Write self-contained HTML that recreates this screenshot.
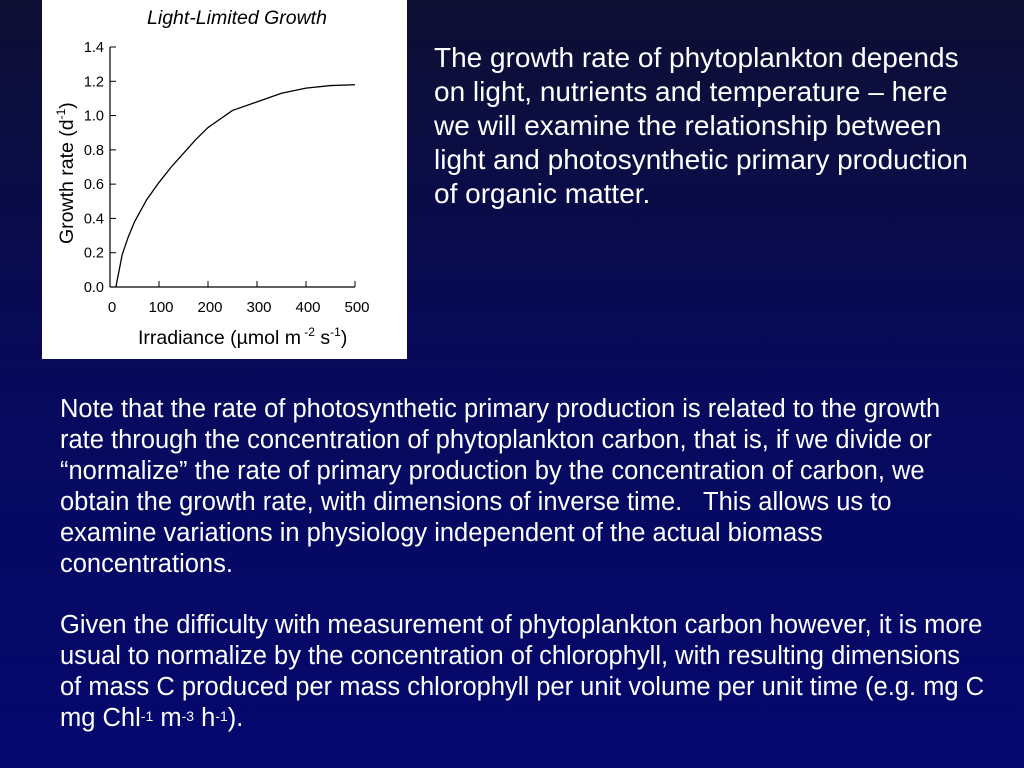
<!DOCTYPE html>
<html><head><meta charset="utf-8"><style>
body{margin:0;width:1024px;height:768px;overflow:hidden;background:linear-gradient(#0e0f33,#070a5c 50%,#05086e);font-family:"Liberation Sans",sans-serif;color:#fff;position:relative}
.t{position:absolute;white-space:nowrap}
.r{left:434px;font-size:28px;line-height:34px}
.b{left:60px;font-size:25.5px;line-height:31px}
sup{font-size:14px;vertical-align:top;position:relative;top:-2px}
</style></head><body>
<svg style="position:absolute;left:0;top:0" width="420" height="365">
<rect x="42" y="0" width="365" height="359" fill="#fff"/>
<g id="g" font-family="Liberation Sans, sans-serif" fill="#000"></g>
</svg>
<div class="t r" style="top:41px">The growth rate of phytoplankton depends<br>on light, nutrients and temperature – here<br>we will examine the relationship between<br>light and photosynthetic primary production<br>of organic matter.</div>
<div class="t b" style="top:394px">Note that the rate of photosynthetic primary production is related to the growth<br>rate through the concentration of phytoplankton carbon, that is, if we divide or<br>“normalize” the rate of primary production by the concentration of carbon, we<br>obtain the growth rate, with dimensions of inverse time.&nbsp;&nbsp; This allows us to<br>examine variations in physiology independent of the actual biomass<br>concentrations.</div>
<div class="t b" style="top:610px">Given the difficulty with measurement of phytoplankton carbon however, it is more<br>usual to normalize by the concentration of chlorophyll, with resulting dimensions<br>of mass C produced per mass chlorophyll per unit volume per unit time (e.g. mg C<br>mg Chl<sup>-1</sup> m<sup>-3</sup> h<sup>-1</sup>).</div>
<script>
const irradiance=[12,25,37,50,75,100,125,150,175,200,225,250,300,350,400,450,500];
const growth=[0,0.19,0.29,0.38,0.51,0.61,0.7,0.78,0.86,0.93,0.98,1.03,1.08,1.13,1.16,1.175,1.18];
const xTicks=[0,100,200,300,400,500];
const yTicks=[0.0,0.2,0.4,0.6,0.8,1.0,1.2,1.4];
const NS="http://www.w3.org/2000/svg";
const g=document.getElementById('g');
const X=v=>110+v*0.49, Y=v=>287-v*(240/1.4);
function mk(t,a,txt){const e=document.createElementNS(NS,t);for(const k in a)e.setAttribute(k,a[k]);if(txt!==undefined)e.textContent=txt;g.appendChild(e);return e;}
let e;
e=mk('line',{x1:110,y1:Y(1.4),x2:110,y2:287,stroke:'#000','stroke-width':1.2});


e=mk('line',{x1:110,y1:287,x2:X(500),y2:287,stroke:'#000','stroke-width':1.2});


yTicks.forEach(v=>{
 e=mk('line',{x1:110,y1:Y(v),x2:116,y2:Y(v),stroke:'#000'});
 
 
 e=mk('text',{x:104,y:Y(v)+5,'font-size':14.5,'text-anchor':'end'},v.toFixed(1));
 
 
});
xTicks.forEach(v=>{
 e=mk('line',{x1:X(v),y1:287,x2:X(v),y2:281,stroke:'#000'});
 
 
 e=mk('text',{x:X(v)+2,y:312,'font-size':15,'text-anchor':'middle'},String(v));
 
 
});
e=mk('polyline',{points:irradiance.map((v,i)=>X(v)+','+Y(growth[i])).join(' '),fill:'none',stroke:'#000','stroke-width':1.3,'stroke-linejoin':'round'});


e=mk('text',{x:237,y:24,'font-size':19.5,'font-style':'italic','text-anchor':'middle'},'Light-Limited Growth');


e=mk('text',{x:138,y:344,'font-size':19.5});
e.innerHTML='Irradiance (µmol m<tspan dy="-8" font-size="12"> -2</tspan><tspan dy="8"> s</tspan><tspan dy="-8" font-size="12">-1</tspan><tspan dy="8">)</tspan>';


e=mk('text',{x:0,y:0,'font-size':19.5,transform:'translate(73,244) rotate(-90)'});
e.innerHTML='Growth rate (d<tspan dy="-8" font-size="12">-1</tspan><tspan dy="8">)</tspan>';


</script>
</body></html>
